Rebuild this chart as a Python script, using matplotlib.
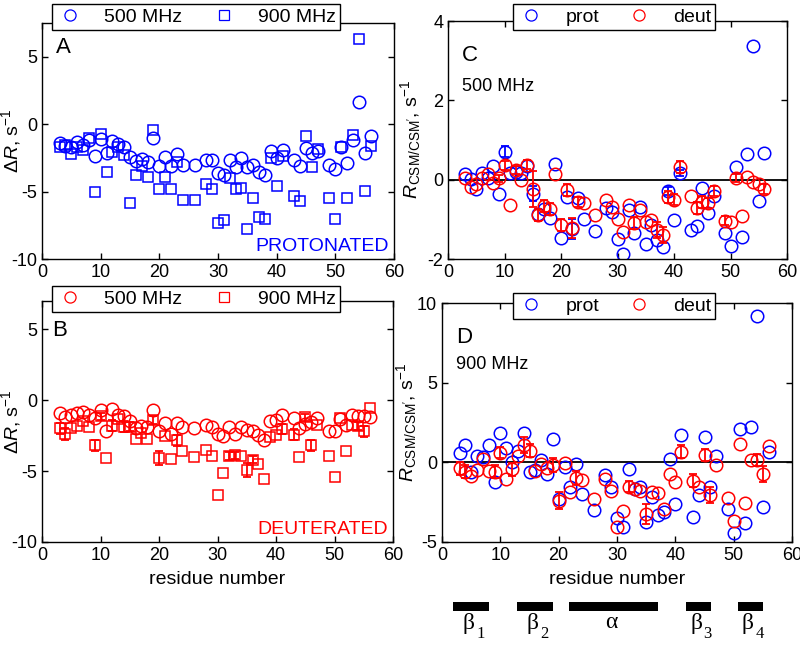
import numpy as np
import matplotlib
matplotlib.use('Agg')
import matplotlib.pyplot as plt
from matplotlib.lines import Line2D

plt.rcParams['font.family'] = ['Liberation Sans', 'DejaVu Sans']
plt.rcParams['mathtext.fontset'] = 'custom'
plt.rcParams['mathtext.rm'] = 'Liberation Sans'
plt.rcParams['mathtext.it'] = 'Liberation Sans:italic'
plt.rcParams['mathtext.bf'] = 'Liberation Sans:bold'
plt.rcParams['axes.unicode_minus'] = False

# residues with data
res = [3, 4, 5, 6, 7, 8, 9, 10, 11, 12, 13, 14, 15, 16, 17, 18, 19, 20, 21, 22, 23, 24,
       26, 28, 29, 30, 31, 32, 33, 34, 35, 36, 37, 38, 39, 40, 41,
       43, 44, 45, 46, 47, 49, 50, 51, 52, 53, 54, 55, 56]

# panel A: protonated, delta R
prot_500 = [-1.39, -1.63, -1.68, -1.32, -1.56, -1.15, -2.35, -1.08, -2.16, -1.25, -1.44, -1.73,
            -2.40, -2.73, -2.57, -2.78, -1.06, -3.07, -2.45, -3.12, -2.20, -3.00,
            -3.00, -2.69, -2.69, -3.60, -3.77, -2.69, -3.17, -2.52, -3.19, -3.05, -3.53, -3.79,
            -1.97, -2.52, -1.92,
            -2.69, -3.12, -1.80, -2.16, -2.00, -3.05, -3.36, -1.73, -2.88, -1.20, 1.63, -2.11, -0.91]
prot_900 = [-1.73, -1.56, -2.20, -1.68, -1.92, -1.00, -5.04, -0.72, -3.55, -2.04, -1.68, -2.28,
            -5.88, -3.79, -3.07, -3.93, -0.43, -4.80, -3.91, -4.80, -2.83, -5.64,
            -5.64, -4.44, -4.80, -7.36, -7.12, -3.98, -4.80, -4.75, -7.75, -5.47, -6.90, -7.05,
            -2.52, -4.60, -2.35,
            -5.35, -5.68, -0.91, -3.19, -1.87, -5.47, -7.03, -1.73, -5.47, -0.77, 6.35, -4.99, -1.63]

# panel B: deuterated, delta R
deut_500 = [-0.93, -1.20, -1.05, -0.88, -0.81, -1.05, -1.28, -0.70, -2.16, -0.63, -1.05, -1.12,
            -1.50, -1.98, -1.80, -1.86, -0.70, -2.20, -1.63, -2.37, -1.63, -1.86,
            -1.98, -1.74, -1.86, -2.37, -2.50, -1.86, -2.37, -1.86, -2.10, -2.20, -2.44, -2.80,
            -1.50, -1.40, -1.05,
            -1.28, -1.98, -1.67, -1.51, -1.28, -2.14, -2.14, -1.35, -1.74, -1.05, -1.12, -1.12, -1.16]
deut_900 = [-1.98, -2.37, -1.98, -1.81, -1.50, -1.86, -3.19, -1.12, -4.10, -1.80, -1.30, -1.86,
            -1.86, -2.72, -2.30, -2.72, -1.40, -4.10, -2.50, -4.14, -2.84, -3.60,
            -4.00, -3.53, -3.95, -6.67, -5.10, -3.95, -3.88, -3.90, -4.93, -4.19, -4.47, -5.58,
            -2.56, -2.44, -2.05,
            -2.44, -4.00, -1.20, -3.19, -1.74, -3.95, -5.40, -1.28, -3.60, -1.74, -1.81, -2.20, -0.53]
deut_900_err = [0.40, 0.40, 0, 0, 0, 0, 0.40, 0.25, 0, 0.40, 0, 0.40,
                0.30, 0, 0, 0, 0.30, 0.50, 0, 0, 0.40, 0,
                0, 0, 0, 0, 0, 0.30, 0.25, 0, 0.50, 0.25, 0, 0,
                0, 0, 0.35,
                0.40, 0, 0.25, 0.40, 0, 0, 0, 0, 0, 0, 0.30, 0.40, 0]

# panel C: R_CSM/CSM' at 500 MHz
c_prot = [0.15, 0.01, -0.23, 0.18, 0.03, 0.34, -0.35, 0.71, 0.18, 0.19, 0.18, 0.34,
          -0.35, -0.86, -0.73, -0.96, 0.40, -1.46, -0.44, -1.24, -0.45, -0.98,
          -1.29, -0.71, -0.82, -1.50, -1.87, -0.76, -1.34, -0.69, -1.61, -1.15, -1.51, -1.71,
          -0.29, -1.01, 0.17,
          -1.26, -1.18, -0.20, -0.83, -0.42, -1.34, -1.68, 0.32, -1.45, 0.64, 3.37, -0.55, 0.67]
c_prot_err = [0, 0, 0, 0, 0, 0, 0, 0.15, 0, 0, 0, 0,
              0.20, 0, 0, 0, 0, 0, 0, 0.25, 0, 0,
              0, 0, 0, 0, 0, 0, 0, 0, 0, 0, 0, 0,
              0.10, 0, 0.08,
              0, 0, 0, 0, 0, 0, 0, 0, 0, 0, 0, 0, 0]
c_deut = [0.03, -0.18, -0.12, 0.05, 0.15, -0.08, 0.03, 0.36, -0.65, 0.25, -0.02, 0.38,
          -0.23, -0.90, -0.66, -0.73, 0.15, -1.15, -0.27, -1.22, -0.56, -0.59,
          -0.90, -0.50, -0.69, -0.98, -1.32, -0.65, -1.09, -0.77, -1.07, -1.01, -1.26, -1.40,
          -0.44, -0.50, 0.32,
          -0.42, -0.71, -0.56, -0.59, -0.29, -1.03, -1.07, 0.05, -0.92, 0.07, -0.06, -0.10, -0.23]
c_deut_err = [0, 0, 0, 0, 0, 0, 0.10, 0.12, 0, 0.10, 0, 0.12,
              0.46, 0.15, 0.15, 0.15, 0, 0.15, 0.15, 0.25, 0.12, 0,
              0, 0, 0, 0, 0, 0, 0.15, 0, 0, 0, 0.20, 0.20,
              0.15, 0.15, 0.15,
              0, 0.15, 0.15, 0.12, 0.12, 0.12, 0, 0.10, 0, 0, 0, 0, 0.12]

# panel D: R_CSM/CSM' at 900 MHz
d_prot = [0.58, 1.09, -0.60, 0.40, 0.31, 1.09, -1.22, 1.82, 0.88, 0.04, 0.73, 1.82,
          -0.59, -0.50, 0.14, -0.75, 1.44, -2.32, -0.27, -1.53, -0.10, -1.99,
          -2.99, -0.79, -1.53, -3.51, -4.04, -0.44, -1.69, -1.53, -3.72, -2.20, -3.30, -3.10,
          0.19, -2.62, 1.72,
          -3.41, -2.05, 1.57, -1.53, 0.42, -2.95, -4.46, 2.07, -3.79, 2.24, 9.18, -2.82, 0.67]
d_deut = [-0.38, -0.59, -0.86, -0.48, 0.19, -0.52, -0.59, 0.61, -1.05, -0.44, 0.40, 1.09,
          0.73, -0.52, -0.13, -0.38, -0.17, -2.41, -0.02, -1.88, -1.00, -1.11,
          -2.30, -1.07, -1.78, -4.04, -3.03, -1.53, -1.69, -1.78, -3.24, -1.84, -1.90, -2.95,
          -0.73, -1.21, 0.67,
          -1.15, -1.57, 0.46, -2.05, -0.19, -2.26, -3.68, 1.13, -2.57, 0.15, 0.15, -0.73, 1.03]
d_deut_err = [0.40, 0.40, 0, 0, 0, 0, 0.40, 0.35, 0, 0.40, 0, 0.50,
              0.40, 0, 0, 0, 0.45, 0.55, 0, 0, 0.45, 0,
              0, 0, 0, 0, 0, 0.35, 0, 0, 0.60, 0, 0, 0,
              0, 0, 0.40,
              0.40, 0, 0.35, 0.50, 0, 0, 0, 0, 0, 0, 0.40, 0.50, 0]

# secondary structure
ss_start = [1.8, 12.8, 21.8, 41.8, 50.7]
ss_end = [8.1, 19.0, 37.0, 46.1, 55.0]
ss_name = ['β', 'β', 'α', 'β', 'β']
ss_sub = ['1', '2', '', '3', '4']

W, H = 800, 645
fig = plt.figure(figsize=(8, 6.45), dpi=100)
fig.set_facecolor('white')


def box(l, t, r, b):
    return [l / W, 1 - b / H, (r - l) / W, (b - t) / H]


axA = fig.add_axes(box(42, 23, 394, 259))
axB = fig.add_axes(box(42, 301, 393, 542))
axC = fig.add_axes(box(448, 21, 787, 259))
axD = fig.add_axes(box(442, 303, 792, 542))

ms_c = 9
ms_s = 7.5
mew = 1.1


def errs(ax, x, y, e, color):
    x = np.array(x)
    y = np.array(y)
    e = np.array(e)
    m = e > 0
    ax.errorbar(x[m], y[m], yerr=e[m], fmt='none', ecolor=color,
                elinewidth=1.3, capsize=3, capthick=1.3)


# A
axA.plot(res, prot_500, 'o', mfc='none', mec='b', ms=ms_c, mew=mew)
axA.plot(res, prot_900, 's', mfc='none', mec='b', ms=ms_s, mew=mew)
axA.set_ylim(-10, 7.5)
axA.set_yticks([-10, -5, 0, 5])
axA.text(0.985, 0.015, 'PROTONATED', color='b', fontsize=14, ha='right', va='bottom',
         transform=axA.transAxes)
axA.text(0.04, 0.94, 'A', fontsize=16, va='top', transform=axA.transAxes)
axA.set_ylabel('Δ$R$, s$^{-1}$', fontsize=14)
axA.yaxis.set_label_coords(-0.055, 0.5)

# B
axB.plot(res, deut_500, 'o', mfc='none', mec='r', ms=ms_c, mew=mew)
axB.plot(res, deut_900, 's', mfc='none', mec='r', ms=ms_s, mew=mew)
errs(axB, res, deut_900, deut_900_err, 'r')
axB.set_ylim(-10, 7)
axB.set_yticks([-10, -5, 0, 5])
axB.text(0.985, 0.015, 'DEUTERATED', color='r', fontsize=14, ha='right', va='bottom',
         transform=axB.transAxes)
axB.text(0.03, 0.92, 'B', fontsize=16, va='top', transform=axB.transAxes)
axB.set_ylabel('Δ$R$, s$^{-1}$', fontsize=14)
axB.yaxis.set_label_coords(-0.055, 0.5)
axB.set_xlabel('residue number', fontsize=14, labelpad=5)

# C
axC.axhline(0, color='k', lw=1.3, zorder=1)
axC.plot(res, c_prot, 'o', mfc='none', mec='b', ms=ms_c, mew=mew)
errs(axC, res, c_prot, c_prot_err, 'b')
axC.plot(res, c_deut, 'o', mfc='none', mec='r', ms=ms_c, mew=mew)
errs(axC, res, c_deut, c_deut_err, 'r')
axC.set_ylim(-2, 4)
axC.set_yticks([-2, 0, 2, 4])
axC.text(0.04, 0.90, 'C', fontsize=16, va='top', transform=axC.transAxes)
axC.text(0.04, 0.76, '500 MHz', fontsize=13, va='top', transform=axC.transAxes)
axC.set_ylabel("$R_{\\mathrm{CSM/CSM'}}$, s$^{-1}$", fontsize=14)
axC.yaxis.set_label_coords(-0.075, 0.5)

# D
axD.axhline(0, color='k', lw=1.3, zorder=1)
axD.plot(res, d_prot, 'o', mfc='none', mec='b', ms=ms_c, mew=mew)
axD.plot(res, d_deut, 'o', mfc='none', mec='r', ms=ms_c, mew=mew)
errs(axD, res, d_deut, d_deut_err, 'r')
axD.set_ylim(-5, 10)
axD.set_yticks([-5, 0, 5, 10])
axD.text(0.04, 0.90, 'D', fontsize=16, va='top', transform=axD.transAxes)
axD.text(0.04, 0.78, '900 MHz', fontsize=13, va='top', transform=axD.transAxes)
axD.set_ylabel("$R_{\\mathrm{CSM/CSM'}}$, s$^{-1}$", fontsize=14)
axD.yaxis.set_label_coords(-0.065, 0.5)
axD.set_xlabel('residue number', fontsize=14, labelpad=5)

for ax in [axA, axB, axC, axD]:
    ax.set_xlim(0, 60)
    ax.set_xticks(range(0, 61, 10))
    ax.tick_params(direction='in', top=True, right=True, labelsize=13, length=4, width=1)
    for s in ax.spines.values():
        s.set_linewidth(1)


# legends
def leg(handles, labels, l, t, r, b):
    fig.legend(handles, labels, loc='center', ncol=2, mode='expand',
               bbox_to_anchor=(l / W, 1 - b / H, (r - l) / W, (b - t) / H),
               fontsize=14, frameon=True, fancybox=False, edgecolor='k',
               framealpha=1, handlelength=1.5, handletextpad=1.0,
               borderaxespad=0, borderpad=0.2)


def mk(marker, color, size):
    return Line2D([], [], ls='none', marker=marker, mfc='none', mec=color, ms=size, mew=0.9)


leg([mk('o', 'b', 8), mk('s', 'b', 7)], ['500 MHz', '900 MHz'], 52, 1, 340, 33)
leg([mk('o', 'r', 8), mk('s', 'r', 7)], ['500 MHz', '900 MHz'], 52, 282, 340, 316)
leg([mk('o', 'b', 8), mk('o', 'r', 8)], ['prot', 'deut'], 513, 1, 715, 33)
leg([mk('o', 'b', 8), mk('o', 'r', 8)], ['prot', 'deut'], 513, 290, 715, 322)

# secondary structure bar under panel D
axS = fig.add_axes(box(442, 595, 792, 645))
axS.set_xlim(0, 60)
axS.set_ylim(0, 50)
axS.axis('off')
for s0, s1, nm, sb in zip(ss_start, ss_end, ss_name, ss_sub):
    axS.fill_between([s0, s1], 34, 43, color='k', lw=0)
    xc = (s0 + s1) / 2
    axS.text(xc - 0.4, 22, nm, fontsize=17, family='Liberation Serif', ha='center', va='center')
    if sb:
        axS.text(xc + 0.9, 11, sb, fontsize=12, family='Liberation Serif', ha='left', va='center')

fig.savefig('out.png', dpi=100, facecolor='white')
